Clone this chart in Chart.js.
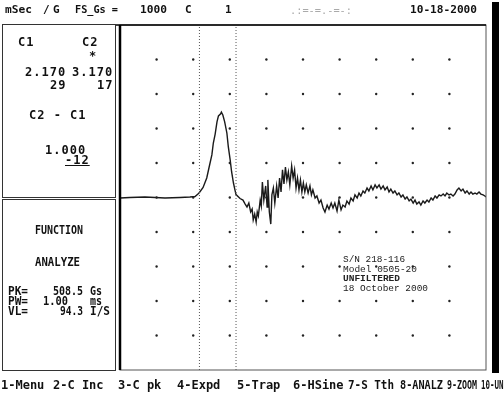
<!DOCTYPE html>
<html>
<head>
<meta charset="utf-8">
<script src="https://cdn.jsdelivr.net/npm/chart.js@4/dist/chart.umd.min.js"></script>
<style>
html, body { margin: 0; padding: 0; background: #fff; }
#page { position: relative; width: 504px; height: 393px; overflow: hidden; background: #fff; }
#plot { position: absolute; left: 0; top: 0; }
.t { position: absolute; white-space: pre; font-family: "DejaVu Sans Mono", monospace; font-weight: bold;
     font-size: 11px; line-height: 11px; color: #111; transform-origin: 0 0; }
.p1 { font-size: 12px; line-height: 12px; letter-spacing: 1px; }
.big { font-size: 12px; line-height: 12px; }
.note { font-family: "Liberation Mono", monospace; font-weight: normal; font-size: 9.5px; line-height: 10px; color: #222; }
.note.b { font-weight: bold; }
.faint { color: #aaa; font-weight: normal; }
.box { position: absolute; border: 1.5px solid #333; box-sizing: border-box; }
#bar { position: absolute; left: 492px; top: 2px; width: 7px; height: 371px; background: #000; }
</style>
</head>
<body>
<div id="page">
  <canvas id="plot" width="504" height="393"></canvas>
  <div class="box" style="left:2px;top:24px;width:114px;height:174px"></div>
  <div class="box" style="left:2px;top:199px;width:114px;height:172px"></div>
  <div id="bar"></div>
</div>
<script>
// time axis in ms (1 ms / div), field in Gs (200 Gs / div, FS 1000)
const timeMs = [
  0.00, 0.27, 0.68, 0.96, 1.23, 1.64, 1.91, 2.05, 2.13, 2.17,
  2.27, 2.37, 2.43, 2.51, 2.55, 2.60, 2.65, 2.69, 2.75, 2.77,
  2.81, 2.86, 2.92, 2.96, 3.01, 3.05, 3.10, 3.14, 3.17, 3.28,
  3.36, 3.42, 3.47, 3.52, 3.57, 3.61, 3.64, 3.68, 3.72, 3.75,
  3.78, 3.83, 3.86, 3.89, 3.93, 3.98, 4.02, 4.04, 4.08, 4.12,
  4.15, 4.19, 4.23, 4.28, 4.32, 4.36, 4.40, 4.44, 4.48, 4.52,
  4.56, 4.60, 4.64, 4.69, 4.73, 4.77, 4.81, 4.85, 4.89, 4.93,
  4.97, 5.01, 5.05, 5.09, 5.14, 5.19, 5.23, 5.27, 5.33, 5.38,
  5.44, 5.49, 5.55, 5.60, 5.66, 5.71, 5.77, 5.82, 5.87, 5.93,
  5.98, 6.04, 6.09, 6.15, 6.20, 6.26, 6.31, 6.37, 6.42, 6.48,
  6.53, 6.58, 6.64, 6.69, 6.75, 6.80, 6.86, 6.91, 6.97, 7.02,
  7.08, 7.13, 7.19, 7.24, 7.30, 7.35, 7.40, 7.46, 7.51, 7.57,
  7.62, 7.68, 7.73, 7.79, 7.84, 7.90, 7.95, 8.01, 8.06, 8.11,
  8.17, 8.22, 8.28, 8.33, 8.39, 8.44, 8.50, 8.55, 8.61, 8.66,
  8.72, 8.77, 8.83, 8.88, 8.93, 8.99, 9.04, 9.10, 9.15, 9.21,
  9.26, 9.32, 9.37, 9.43, 9.48, 9.54, 9.59, 9.64, 9.70, 9.75,
  9.81, 9.86, 9.92, 9.97, 10.0
];
const fieldGs = [
  -3, 0, 3, 0, -3, 0, 3, 6, 20, 29,
  58, 113, 171, 247, 316, 368, 438, 473, 485, 495,
  478, 438, 374, 293, 218, 148, 84, 44, 17, -6,
  -15, -38, -55, -32, -84, -67, -130, -96, -142, -84,
  -107, -15, -49, 90, -15, 67, -55, 102, -84, -154,
  15, 55, -32, 67, -3, 113, 32, 160, 78, 177,
  102, 148, 73, 183, 113, 160, 55, 113, 44, 102,
  32, 84, 32, 73, 26, 67, 15, 44, -3, 9,
  -32, -15, -61, -84, -44, -67, -32, -61, -32, -78,
  -15, -72, -44, -55, -20, -38, -3, -20, 15, -3,
  26, 9, 38, 26, 55, 38, 67, 44, 73, 55,
  73, 49, 67, 44, 61, 32, 49, 26, 38, 15,
  26, 3, 15, -9, 3, -20, -9, -32, -15, -38,
  -26, -44, -20, -32, -15, -26, -3, -15, 9, -3,
  15, 9, 20, 9, 26, 15, 20, 9, 20, 44,
  55, 38, 49, 26, 38, 20, 32, 20, 26, 20,
  32, 20, 15, 9, 3
];
const cursorMs = [2.17, 3.17];
const gridMs = [1, 2, 3, 4, 5, 6, 7, 8, 9];
const gridGs = [-800, -600, -400, -200, 0, 200, 400, 600, 800];

const headerText = ['mSec', '/', 'G', 'FS_Gs =', '1000', 'C', '1', '10-18-2000'];
const cursorText = ['C1', 'C2', '*', '2.170', '3.170', '29', '17', 'C2 - C1', '1.000', '-12'];
const functionText = ['FUNCTION', 'ANALYZE', 'PK=', '508.5', 'Gs', 'PW=', '1.00', 'ms', 'VL=', '94.3', 'I/S'];
const menuText = ['1-Menu', '2-C Inc', '3-C pk', '4-Expd', '5-Trap', '6-HSine', '7-S Tth', '8-ANALZ', '9-ZOOM', '10-UNS'];
const noteText = ['S/N 218-116', 'Model 0505-20', 'UNFILTERED', '18 October 2000'];

const page = document.getElementById('page');

function addText(str, x, y, w, cls) {
  const el = document.createElement('div');
  el.className = 't' + (cls ? ' ' + cls : '');
  el.textContent = str;
  el.style.left = x + 'px';
  el.style.top = y + 'px';
  page.appendChild(el);
  if (w) {
    const nat = el.getBoundingClientRect().width;
    el.style.transform = 'scaleX(' + (w / nat).toFixed(3) + ')';
  }
  return el;
}

// header line
const headerPos = [[5, 27], [43, 0], [53, 0], [75, 43], [140, 27], [185, 0], [225, 0], [410, 67]];
headerText.forEach((s, i) => addText(s, headerPos[i][0], 4, headerPos[i][1]));
addText('.:=-=.-=-:', 290, 5, 62, 'faint');

// cursor readout panel
const cursorPos = [[18, 36], [82, 36], [89, 50], [25, 66], [72, 66], [50, 79], [97, 79], [29, 109], [45, 144], [65, 154]];
cursorText.forEach((s, i) => {
  const el = addText(s, cursorPos[i][0], cursorPos[i][1], 0, 'p1');
  if (s === '-12') el.style.textDecoration = 'underline';
});

// function panel
const funcPos = [[35, 224, 48], [35, 256, 45], [8, 285, 20], [53, 285, 30], [90, 285, 12],
  [8, 295, 20], [43, 295, 25], [90, 295, 12], [8, 305, 20], [60, 305, 23], [90, 305, 20]];
functionText.forEach((s, i) => addText(s, funcPos[i][0], funcPos[i][1], funcPos[i][2], 'big'));

// key menu
const menuPos = [[1, 0], [53, 0], [118, 0], [177, 0], [237, 0], [293, 0], [348, 46], [400, 43], [447, 30], [481, 27]];
menuText.forEach((s, i) => addText(s, menuPos[i][0], 379, menuPos[i][1], 'big'));

// annotation inside plot
const noteTop = [255, 265, 274, 284];
const noteW = [62, 74, 57, 85];
noteText.forEach((s, i) => addText(s, 343, noteTop[i], noteW[i], 'note' + (i === 2 ? ' b' : '')));

const gridDots = [];
gridMs.forEach(x => gridGs.forEach(y => gridDots.push({x: x, y: y})));

const frame = {
  id: 'frame',
  afterDraw(chart) {
    const a = chart.chartArea, ctx = chart.ctx;
    ctx.save();
    ctx.strokeStyle = '#555';
    ctx.lineWidth = 1;
    ctx.strokeRect(a.left, a.top, a.right - a.left, a.bottom - a.top);
    ctx.strokeStyle = '#000';
    ctx.lineWidth = 1.5;
    ctx.beginPath();
    ctx.moveTo(a.left - 5, a.top);
    ctx.lineTo(a.right, a.top);
    ctx.stroke();
    ctx.lineWidth = 2.5;
    ctx.beginPath();
    ctx.moveTo(a.left, a.top);
    ctx.lineTo(a.left, a.bottom);
    ctx.stroke();
    ctx.restore();
  }
};

new Chart(document.getElementById('plot').getContext('2d'), {
  type: 'line',
  data: {
    datasets: [
      {
        data: gridDots,
        showLine: false,
        pointRadius: 1.2,
        pointBorderWidth: 0,
        pointBackgroundColor: '#222'
      },
      ...cursorMs.map(c => ({
        data: [{x: c, y: -1000}, {x: c, y: 1000}],
        borderColor: '#555',
        borderWidth: 1,
        borderDash: [1, 2],
        pointRadius: 0
      })),
      {
        data: timeMs.map((t, i) => ({x: t, y: fieldGs[i]})),
        borderColor: '#1a1a1a',
        borderWidth: 1.4,
        pointRadius: 0,
        tension: 0
      }
    ]
  },
  options: {
    responsive: false,
    animation: false,
    devicePixelRatio: 1,
    layout: {padding: {left: 120, right: 18, top: 25, bottom: 23}},
    plugins: {legend: {display: false}, tooltip: {enabled: false}},
    scales: {
      x: {type: 'linear', min: 0, max: 10, display: false},
      y: {type: 'linear', min: -1000, max: 1000, display: false}
    }
  },
  plugins: [frame]
});
</script>
</body>
</html>
